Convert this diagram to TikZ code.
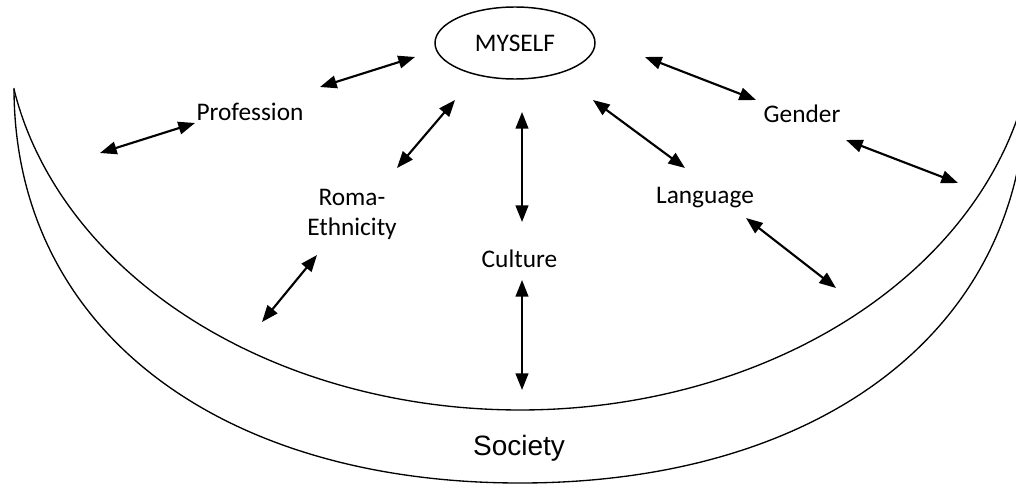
\documentclass[tikz,border=0pt]{standalone}
\usepackage{fontspec}
\setmainfont{Carlito}
\newfontfamily\socfont{Liberation Sans}
\usetikzlibrary{arrows.meta,shapes.geometric}
\begin{document}
\begin{tikzpicture}[x=0.75pt,y=-0.75pt,
  lbl/.style={font=\fontsize{19}{23}\selectfont, inner sep=0pt, anchor=base},
  link/.style={line width=1.6pt, {Triangle[length=12.5pt,width=9.5pt]}-{Triangle[length=12.5pt,width=9.5pt]}},
  rim/.style={line width=1pt}]
\useasboundingbox (0,0) rectangle (1016,485);
% crescent (society)
\begin{scope}
\clip (0,0) rectangle (1016,485);
\draw[rim] (14,88) .. controls (14,330) and (220,483) .. (520,483) .. controls (820,483) and (1026,330) .. (1026,88);
\draw[rim] plot[domain=169.3:10.7, samples=150, smooth] ({520+515*cos(\x)},{16+394*sin(\x)});
\end{scope}
% nodes
\node[draw, ellipse, line width=1.1pt, minimum width=120pt, minimum height=54pt, inner sep=0pt,
      font=\fontsize{19}{23}\selectfont] (me) at (515,43) {MYSELF};
\node[lbl] (prof) at (250,120) {Profession};
\node[lbl] (roma) at (352,205) {Roma-};
\node[lbl] (eth) at (352,235) {Ethnicity};
\node[lbl] (gen) at (802,122) {Gender};
\node[lbl] (lang) at (705,203) {Language};
\node[lbl] (cult) at (519.5,267) {Culture};
\node[lbl, font=\socfont\fontsize{21}{25}\selectfont] (soc) at (519,455) {Society};
% arrow end points
\coordinate (pmA) at (320,87);  \coordinate (pmB) at (415,57);
\coordinate (lpA) at (100,153); \coordinate (lpB) at (195,123);
\coordinate (rmA) at (397,168); \coordinate (rmB) at (455,100);
\coordinate (rdA) at (317,255); \coordinate (rdB) at (262,322);
\coordinate (cmA) at (522,112); \coordinate (cmB) at (522,222);
\coordinate (cdA) at (522,280); \coordinate (cdB) at (522,390);
\coordinate (lmA) at (593,100); \coordinate (lmB) at (685,168);
\coordinate (ldA) at (746,218); \coordinate (ldB) at (836,288);
\coordinate (gmA) at (645,57);  \coordinate (gmB) at (756,100);
\coordinate (grA) at (846,140); \coordinate (grB) at (958,183);
% arrows
\draw[link] (pmA) -- (pmB);
\draw[link] (lpA) -- (lpB);
\draw[link] (rmA) -- (rmB);
\draw[link] (rdA) -- (rdB);
\draw[link] (cmA) -- (cmB);
\draw[link] (cdA) -- (cdB);
\draw[link] (lmA) -- (lmB);
\draw[link] (ldA) -- (ldB);
\draw[link] (gmA) -- (gmB);
\draw[link] (grA) -- (grB);
\end{tikzpicture}
\end{document}
